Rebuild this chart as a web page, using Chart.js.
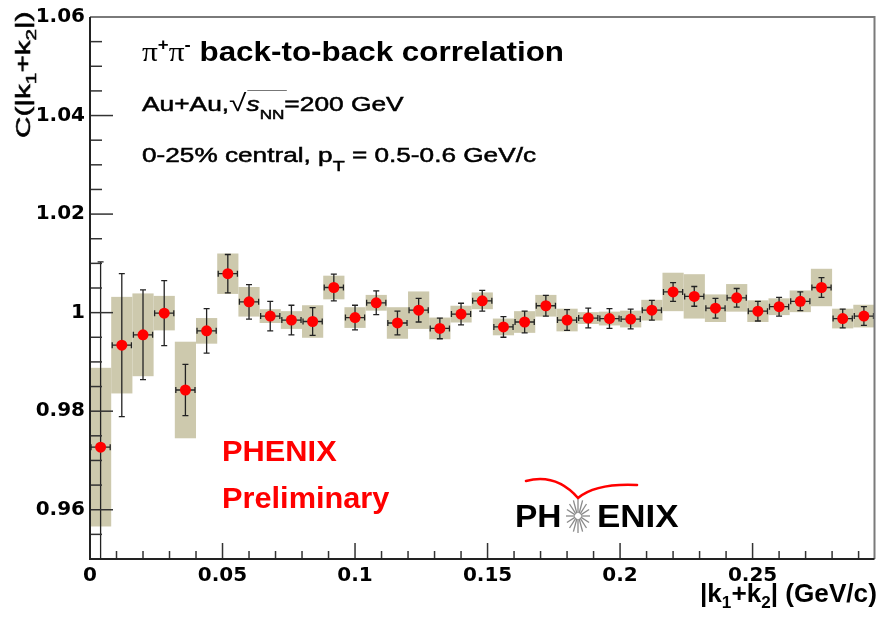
<!DOCTYPE html>
<html>
<head>
<meta charset="utf-8">
<title>pi+pi- back-to-back correlation</title>
<script src="https://cdn.jsdelivr.net/npm/chart.js@4.4.0/dist/chart.umd.min.js"></script>
<style>
    body { margin: 0; background: #fff; }
    #wrap { position: relative; width: 880px; height: 619px; }
    .lbl { position: absolute; white-space: nowrap; font-family: 'Liberation Sans', Arial, sans-serif; transform-origin: 0 0; color: #000; }
    .semi { -webkit-text-stroke: 0.5px #000; }
    .sub, .sup { position: relative; }
    .ov { position: relative; }
    .ov::before { content: ''; position: absolute; left: 1px; right: -2px; top: -3px; border-top: 1.2px solid #777; }
    .red { color: #ff0000; font-weight: bold; }
    #logoArt { position: absolute; left: 500px; top: 465px; }
</style>
</head>
<body>
<div id="wrap">
    <canvas id="chart"></canvas>

    <div class="lbl" data-w="422" style="left:142px; top:39px; font-size:27px; line-height:27px; font-weight:bold;"><span style="font-family:'Liberation Serif',serif; font-weight:normal;">π</span><span class="sup" style="font-size:16px; top:-11px;">+</span><span style="font-family:'Liberation Serif',serif; font-weight:normal;">π</span><span class="sup" style="font-size:16px; top:-11px;">-</span> back-to-back correlation</div>

    <div class="lbl semi" data-w="262" style="left:142px; top:93px; font-size:20px; line-height:20px;">Au+Au,<span style="font-size:24px; -webkit-text-stroke:0;">√</span><span class="ov"><i>s</i><span class="sub" style="font-size:13px; top:8px;">NN</span></span>=200 GeV</div>

    <div class="lbl semi" data-w="394" style="left:142px; top:145px; font-size:20px; line-height:20px;">0-25% central, p<span class="sub" style="font-size:15px; top:9px;">T</span> = 0.5-0.6 GeV/c</div>

    <div class="lbl red" data-w="115" style="left:222px; top:436px; font-size:30px; line-height:30px;">PHENIX</div>
    <div class="lbl red" data-w="167" style="left:222px; top:483px; font-size:30px; line-height:30px;">Preliminary</div>

    <svg id="logoArt" width="160" height="75" viewBox="500 465 160 75">
        <path d="M526,481 Q556,473 578,498 Q596,483 637,485" fill="none" stroke="#ff0000" stroke-width="2.6" stroke-linecap="round"/>
        <g id="star" stroke="#8a8a8a" stroke-width="1.3"></g>
    </svg>
    <div class="lbl" data-w="46" style="left:515px; top:500px; font-size:32px; line-height:32px; font-weight:bold;">PH</div>
    <div class="lbl" data-w="82" style="left:597px; top:500px; font-size:32px; line-height:32px; font-weight:bold;">ENIX</div>

    <div class="lbl" data-w="177" style="left:700px; top:580px; font-size:26px; line-height:26px; font-weight:bold;">|k<span class="sub" style="font-size:17px; top:6px;">1</span>+k<span class="sub" style="font-size:17px; top:6px;">2</span>| (GeV/c)</div>

    <div class="lbl semi" id="ytitle" data-w="126" style="left:0; top:0; font-size:20px; line-height:20px;">C(|k<span class="sub" style="font-size:14px; top:6px;">1</span>+k<span class="sub" style="font-size:14px; top:6px;">2</span>|)</div>
</div>

<script>
// --- data ---
const kBins = [0.004, 0.012, 0.020, 0.028, 0.036, 0.044, 0.052, 0.060, 0.068, 0.076,
               0.084, 0.092, 0.100, 0.108, 0.116, 0.124, 0.132, 0.140, 0.148, 0.156,
               0.164, 0.172, 0.180, 0.188, 0.196, 0.204, 0.212, 0.220, 0.228, 0.236,
               0.244, 0.252, 0.260, 0.268, 0.276, 0.284, 0.292];
const corr = [0.9727, 0.9934, 0.9955, 0.9999, 0.9843, 0.9963, 1.0079, 1.0022, 0.9993, 0.9985,
              0.9982, 1.0051, 0.9990, 1.0020, 0.9979, 1.0005, 0.9968, 0.9997, 1.0024, 0.9971,
              0.9981, 1.0014, 0.9985, 0.9989, 0.9988, 0.9987, 1.0005, 1.0042, 1.0033, 1.0009,
              1.0030, 1.0003, 1.0012, 1.0023, 1.0051, 0.9988, 0.9993];
const statErr = [0.0376, 0.0145, 0.0091, 0.0066, 0.0052, 0.0045, 0.0039, 0.0035, 0.0030, 0.0030,
                 0.0028, 0.0027, 0.0025, 0.0024, 0.0024, 0.0024, 0.0021, 0.0022, 0.0021, 0.0021,
                 0.0022, 0.0021, 0.0021, 0.0020, 0.0020, 0.0020, 0.0020, 0.0019, 0.0020, 0.0020,
                 0.0019, 0.0020, 0.0019, 0.0019, 0.0020, 0.0019, 0.0019];
const sysErr = [0.0161, 0.0098, 0.0084, 0.0035, 0.0098, 0.0026, 0.0041, 0.0030, 0.0014, 0.0018,
                0.0033, 0.0024, 0.0021, 0.0016, 0.0032, 0.0038, 0.0022, 0.0017, 0.0017, 0.0017,
                0.0022, 0.0022, 0.0023, 0.0012, 0.0014, 0.0017, 0.0021, 0.0039, 0.0045, 0.0028,
                0.0028, 0.0022, 0.0017, 0.0022, 0.0038, 0.0020, 0.0023];
const binHalf = 0.004; // half bin width in GeV/c

const xTickValues = [0, 0.05, 0.1, 0.15, 0.2, 0.25];
const xTickLabels = ['0', '0.05', '0.1', '0.15', '0.2', '0.25'];
const yTickValues = [0.96, 0.98, 1.0, 1.02, 1.04, 1.06];
const yTickLabels = ['0.96', '0.98', '1', '1.02', '1.04', '1.06'];

// sys boxes + stat error bars (under the markers)
const errorBars = {
    id: 'errorBars',
    beforeDatasetsDraw(chart) {
        const { ctx, chartArea: a, scales: { x, y } } = chart;
        ctx.save();
        ctx.beginPath();
        ctx.rect(a.left, a.top, a.right - a.left, a.bottom - a.top);
        ctx.clip();

        ctx.fillStyle = '#cdc9ad';
        kBins.forEach((k, i) => {
            const x0 = x.getPixelForValue(k - binHalf);
            const x1 = x.getPixelForValue(k + binHalf);
            const y0 = y.getPixelForValue(corr[i] + sysErr[i]);
            const y1 = y.getPixelForValue(corr[i] - sysErr[i]);
            ctx.fillRect(x0, y0, x1 - x0, y1 - y0);
        });

        ctx.strokeStyle = '#222';
        ctx.lineWidth = 1.3;
        kBins.forEach((k, i) => {
            const cx = x.getPixelForValue(k);
            const cy = y.getPixelForValue(corr[i]);
            const xl = x.getPixelForValue(k - binHalf) + 1;
            const xr = x.getPixelForValue(k + binHalf) - 1;
            const yt = y.getPixelForValue(corr[i] + statErr[i]);
            const yb = y.getPixelForValue(corr[i] - statErr[i]);
            ctx.beginPath();
            ctx.moveTo(cx, yt); ctx.lineTo(cx, yb);
            ctx.moveTo(xl, cy); ctx.lineTo(xr, cy);
            ctx.moveTo(cx - 3, yt); ctx.lineTo(cx + 3, yt);
            ctx.moveTo(cx - 3, yb); ctx.lineTo(cx + 3, yb);
            ctx.moveTo(xl, cy - 3); ctx.lineTo(xl, cy + 3);
            ctx.moveTo(xr, cy - 3); ctx.lineTo(xr, cy + 3);
            ctx.stroke();
        });
        ctx.restore();
    }
};

// ROOT style frame with ticks pointing inwards
const rootFrame = {
    id: 'rootFrame',
    afterDatasetsDraw(chart) {
        const { ctx, chartArea: a, scales: { x, y } } = chart;
        ctx.save();
        ctx.strokeStyle = '#333';
        ctx.lineWidth = 1.5;
        for (let i = 0; ; i++) {
            const v = y.min + i * 0.005;
            if (v > y.max + 1e-9) break;
            const py = y.getPixelForValue(v);
            const major = yTickValues.some(t => Math.abs(t - v) < 1e-6);
            ctx.beginPath(); ctx.moveTo(a.left, py); ctx.lineTo(a.left + (major ? 23 : 12), py); ctx.stroke();
        }
        for (let i = 0; ; i++) {
            const v = x.min + i * 0.01;
            if (v > x.max + 1e-9) break;
            const px = x.getPixelForValue(v);
            const major = xTickValues.some(t => Math.abs(t - v) < 1e-6);
            ctx.beginPath(); ctx.moveTo(px, a.bottom); ctx.lineTo(px, a.bottom - (major ? 16 : 8)); ctx.stroke();
        }
        // frame
        ctx.strokeStyle = '#7a7a7a';
        ctx.lineWidth = 2;
        ctx.beginPath();
        ctx.moveTo(a.left, a.top); ctx.lineTo(a.right, a.top); ctx.lineTo(a.right, a.bottom);
        ctx.stroke();
        ctx.strokeStyle = '#222';
        ctx.beginPath();
        ctx.moveTo(a.left, a.top); ctx.lineTo(a.left, a.bottom); ctx.lineTo(a.right, a.bottom);
        ctx.stroke();
        ctx.restore();
    }
};

const tickFont = { family: "'DejaVu Sans', sans-serif", size: 20, weight: 'bold' };

new Chart(document.getElementById('chart'), {
    type: 'scatter',
    data: {
        datasets: [{
            data: kBins.map((k, i) => ({ x: k, y: corr[i] })),
            pointRadius: 5.5,
            pointHoverRadius: 5.5,
            pointBackgroundColor: '#ff0000',
            pointBorderWidth: 0,
            clip: false
        }]
    },
    options: {
        responsive: true,
        maintainAspectRatio: false,
        animation: false,
        layout: { padding: { top: 14, right: 2, left: 0, bottom: 0 } },
        plugins: { legend: { display: false }, tooltip: { enabled: false } },
        scales: {
            x: {
                type: 'linear', min: 0, max: 0.296,
                grid: { display: false, drawTicks: false },
                border: { display: false },
                afterBuildTicks: s => { s.ticks = xTickValues.map(v => ({ value: v })); },
                afterFit: s => { s.height = 60; },
                ticks: { callback: (v, i) => xTickLabels[i], font: tickFont, color: '#000', padding: 5, maxRotation: 0, autoSkip: false }
            },
            y: {
                min: 0.95, max: 1.06,
                grid: { display: false, drawTicks: false },
                border: { display: false },
                afterBuildTicks: s => { s.ticks = yTickValues.map(v => ({ value: v })); },
                afterFit: s => { s.width = 90; },
                ticks: { callback: (v, i) => yTickLabels[i], font: tickFont, color: '#000', padding: 5, autoSkip: false }
            }
        }
    },
    plugins: [errorBars, rootFrame]
});

// logo star
const star = document.getElementById('star');
for (let i = 0; i < 16; i++) {
    const t = i * Math.PI / 8;
    const ln = document.createElementNS('http://www.w3.org/2000/svg', 'line');
    ln.setAttribute('x1', 578 + 3 * Math.cos(t)); ln.setAttribute('y1', 516 + 3 * Math.sin(t));
    ln.setAttribute('x2', 578 + 12 * Math.cos(t)); ln.setAttribute('y2', 516 + 17 * Math.sin(t));
    star.appendChild(ln);
}

// stretch the annotation texts to the widths seen in the original
document.querySelectorAll('.lbl[data-w]').forEach(el => {
    const s = +el.dataset.w / el.offsetWidth;
    if (el.id === 'ytitle') {
        const b = 0.8465 * 20;
        el.style.transform = `translate(${30 - b}px, 138px) rotate(-90deg) scaleX(${s})`;
    } else {
        el.style.transform = `scaleX(${s})`;
    }
});
</script>
</body>
</html>
